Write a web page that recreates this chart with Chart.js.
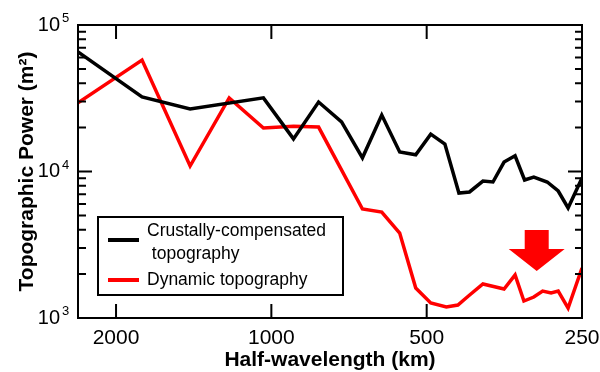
<!DOCTYPE html>
<html>
<head>
<meta charset="utf-8">
<script src="https://cdn.jsdelivr.net/npm/chart.js@4.4.1/dist/chart.umd.min.js"></script>
<style>
  body { margin: 0; background: #fff; }
  #wrap { width: 600px; height: 372px; }
</style>
</head>
<body>
<div id="wrap"><canvas id="powerChart" width="600" height="372"></canvas></div>
<script>
const FONT = "'Liberation Sans', Arial, Helvetica, sans-serif";

// half-wavelength (km) vs topographic power (m^2)
const crustalKm = [2370, 1781, 1437, 1036, 906, 810, 731, 666, 611, 564, 525, 491, 461, 433, 413, 389, 372, 354, 337, 323, 310, 292, 278, 266, 250];
const crustalPower = [65500, 32300, 26700, 31800, 16700, 29800, 21800, 12400, 24300, 13600, 13000, 18000, 15400, 7130, 7250, 8610, 8480, 11600, 12800, 8750, 9170, 8480, 7360, 5640, 9030];

const dynamicKm = [2370, 1781, 1437, 1207, 1036, 906, 810, 666, 611, 564, 525, 491, 458, 435, 415, 389, 354, 337, 324, 310, 298, 287, 278, 266, 250];
const dynamicPower = [29400, 57700, 10900, 31800, 19800, 20400, 20100, 5550, 5290, 3800, 1600, 1265, 1190, 1226, 1413, 1706, 1578, 1966, 1306, 1390, 1528, 1482, 1528, 1170, 2193];

const xTickKm = [2000, 1000, 500, 250];
const yTickPower = [1e3, 1e4, 1e5];
const legendLines = [
    { color: '#000', text: ['Crustally-compensated', ' topography'] },
    { color: '#ff0000', text: ['Dynamic topography'] }
];
const arrowTip = [306, 2090]; // km, m^2

function toPoints(xs, ys) {
    return xs.map((x, i) => ({ x: x, y: ys[i] }));
}

// frame, inward ticks, exponents, legend box and the red arrow
const decorPlugin = {
    id: 'decor',
    afterDraw(chart) {
        const ctx = chart.ctx;
        const a = chart.chartArea;
        const xs = chart.scales.x;
        const ys = chart.scales.y;
        ctx.save();
        ctx.strokeStyle = '#000';
        ctx.lineWidth = 2;
        ctx.strokeRect(a.left, a.top, a.right - a.left, a.bottom - a.top);

        ctx.beginPath();
        xTickKm.forEach(v => {
            const px = xs.getPixelForValue(v);
            ctx.moveTo(px, a.bottom); ctx.lineTo(px, a.bottom - 14);
            ctx.moveTo(px, a.top); ctx.lineTo(px, a.top + 14);
        });
        yTickPower.forEach(v => {
            const py = ys.getPixelForValue(v);
            ctx.moveTo(a.left, py); ctx.lineTo(a.left + 14, py);
            ctx.moveTo(a.right, py); ctx.lineTo(a.right - 14, py);
        });
        for (let d = 1e3; d < 1e5; d *= 10) {
            for (let k = 2; k <= 9; k++) {
                const py = ys.getPixelForValue(k * d);
                ctx.moveTo(a.left, py); ctx.lineTo(a.left + 8, py);
                ctx.moveTo(a.right, py); ctx.lineTo(a.right - 7, py);
            }
        }
        ctx.stroke();

        // exponents next to the "10" tick labels
        ctx.fillStyle = '#000';
        ctx.font = '13px ' + FONT;
        ctx.textAlign = 'left';
        ctx.textBaseline = 'alphabetic';
        yTickPower.forEach(v => {
            const py = ys.getPixelForValue(v);
            ctx.fillText(String(Math.round(Math.log10(v))), a.left - 16, py - 3);
        });

        // legend
        const lx = 98, ly = 217, lw = 245, lh = 78;
        ctx.fillStyle = '#fff';
        ctx.fillRect(lx, ly, lw, lh);
        ctx.strokeRect(lx, ly, lw, lh);
        ctx.font = '17.5px ' + FONT;
        ctx.textBaseline = 'middle';
        let ty = ly + 14;
        legendLines.forEach(item => {
            const lineY = item.text.length > 1 ? ty + 9 : ty;
            ctx.strokeStyle = item.color;
            ctx.lineWidth = 4;
            ctx.beginPath();
            ctx.moveTo(lx + 10, lineY);
            ctx.lineTo(lx + 41, lineY);
            ctx.stroke();
            ctx.fillStyle = '#000';
            item.text.forEach(t => {
                ctx.fillText(t, lx + 49, ty);
                ty += 23;
            });
            ty += 3;
        });

        // red arrow pointing down
        const tx = xs.getPixelForValue(arrowTip[0]);
        const tyy = ys.getPixelForValue(arrowTip[1]);
        ctx.fillStyle = '#ff0000';
        ctx.beginPath();
        ctx.moveTo(tx - 12, tyy - 41);
        ctx.lineTo(tx + 12, tyy - 41);
        ctx.lineTo(tx + 12, tyy - 22);
        ctx.lineTo(tx + 28, tyy - 22);
        ctx.lineTo(tx, tyy);
        ctx.lineTo(tx - 28, tyy - 22);
        ctx.lineTo(tx - 12, tyy - 22);
        ctx.closePath();
        ctx.fill();
        ctx.restore();
    }
};

const ctx = document.getElementById('powerChart').getContext('2d');
new Chart(ctx, {
    type: 'line',
    data: {
        datasets: [
            {
                label: 'Crustally-compensated topography',
                data: toPoints(crustalKm, crustalPower),
                borderColor: '#000',
                borderWidth: 3.5,
                pointRadius: 0,
                tension: 0
            },
            {
                label: 'Dynamic topography',
                data: toPoints(dynamicKm, dynamicPower),
                borderColor: '#ff0000',
                borderWidth: 3.5,
                pointRadius: 0,
                tension: 0
            }
        ]
    },
    options: {
        responsive: false,
        animation: false,
        layout: { padding: { left: 0, right: 18, top: 25, bottom: 0 } },
        plugins: {
            legend: { display: false },
            tooltip: { enabled: false }
        },
        scales: {
            x: {
                type: 'logarithmic',
                reverse: true,
                min: 250,
                max: 2370,
                grid: { display: false, drawTicks: true, tickLength: 8 },
                border: { display: false },
                afterBuildTicks: scale => { scale.ticks = xTickKm.map(v => ({ value: v })); },
                afterFit: scale => { scale.height = 54; },
                ticks: {
                    autoSkip: false,
                    maxRotation: 0,
                    padding: 0,
                    color: '#000',
                    font: { family: FONT, size: 21 },
                    callback: v => String(v)
                },
                title: {
                    display: true,
                    text: 'Half-wavelength (km)',
                    color: '#000',
                    padding: { top: 0, bottom: 0 },
                    font: { family: FONT, size: 21, weight: 'bold', lineHeight: 1.1 }
                }
            },
            y: {
                type: 'logarithmic',
                min: 1000,
                max: 100000,
                grid: { display: false, drawTicks: true, tickLength: 18 },
                border: { display: false },
                afterBuildTicks: scale => { scale.ticks = yTickPower.map(v => ({ value: v })); },
                afterFit: scale => { scale.width = 78; },
                ticks: {
                    padding: 0,
                    color: '#000',
                    font: { family: FONT, size: 20 },
                    callback: () => '10'
                },
                title: {
                    display: true,
                    text: 'Topographic Power (m²)',
                    color: '#000',
                    padding: { top: 15, bottom: 0 },
                    font: { family: FONT, size: 21, weight: 'bold' }
                }
            }
        }
    },
    plugins: [decorPlugin]
});
</script>
</body>
</html>
